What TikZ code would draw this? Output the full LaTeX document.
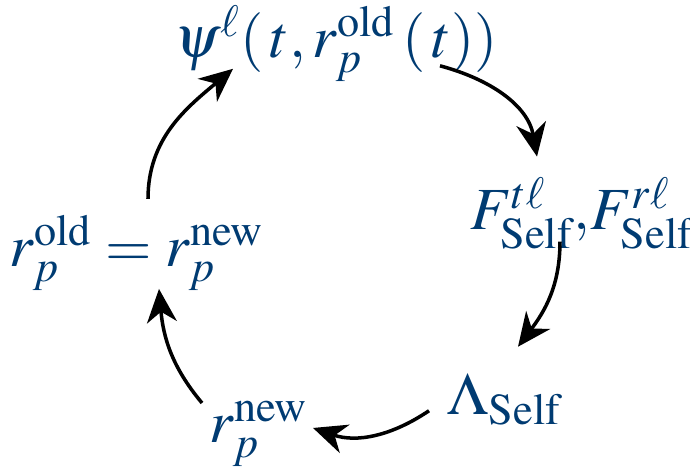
\documentclass[tikz,border=0pt]{standalone}
\usepackage{amsmath}
\usepackage{mathptmx}
\usepackage{xcolor}
\usepackage{tikz}
\usetikzlibrary{arrows.meta,calc}
\definecolor{cycleblue}{RGB}{0,59,114}

\begin{document}
\begin{tikzpicture}[
  x=0.01cm, y=0.01cm,
  every node/.style={text=cycleblue, inner sep=0pt, anchor=base,
                      font=\fontsize{17}{20}\selectfont},
  arr/.style={-{Stealth[length=9.5pt, width=8.5pt, inset=3pt]},
              line width=1pt, black},
]
\useasboundingbox (0,0) rectangle (690,473);
\node (psi)   at (336,415) {$\psi^{\ell}(\,t, r_p^{\mathrm{old}}\,(\,t))$};
\node (fself) at (582,243) {$F^{t\ell}_{\mathrm{Self}},\!F^{r\ell}_{\mathrm{Self}}$};
\node (lam)   at (505,58)  {$\Lambda_{\mathrm{Self}}$};
\node (rnew)  at (259,30)  {$r_p^{\mathrm{new}}$};
\node (rold)  at (137,206) {$r_p^{\mathrm{old}} = r_p^{\mathrm{new}}$};

\draw[arr] ($(psi)+(104,-22)$) to[out=-15, in=100] ($(fself)+(-45,57)$);
\draw[arr] ($(fself)+(-22,-28)$) to[out=-90, in=53] ($(lam)+(13,53)$);
\draw[arr] ($(lam)+(-76,-11)$) to[out=214, in=-19] ($(rnew)+(54,6)$);
\draw[arr] ($(rnew)+(-57,31)$) to[out=130, in=-85] ($(rold)+(22,-36)$);
\draw[arr] ($(rold)+(11,54)$) to[out=90, in=220] ($(psi)+(-103,-25)$);
\end{tikzpicture}
\end{document}
